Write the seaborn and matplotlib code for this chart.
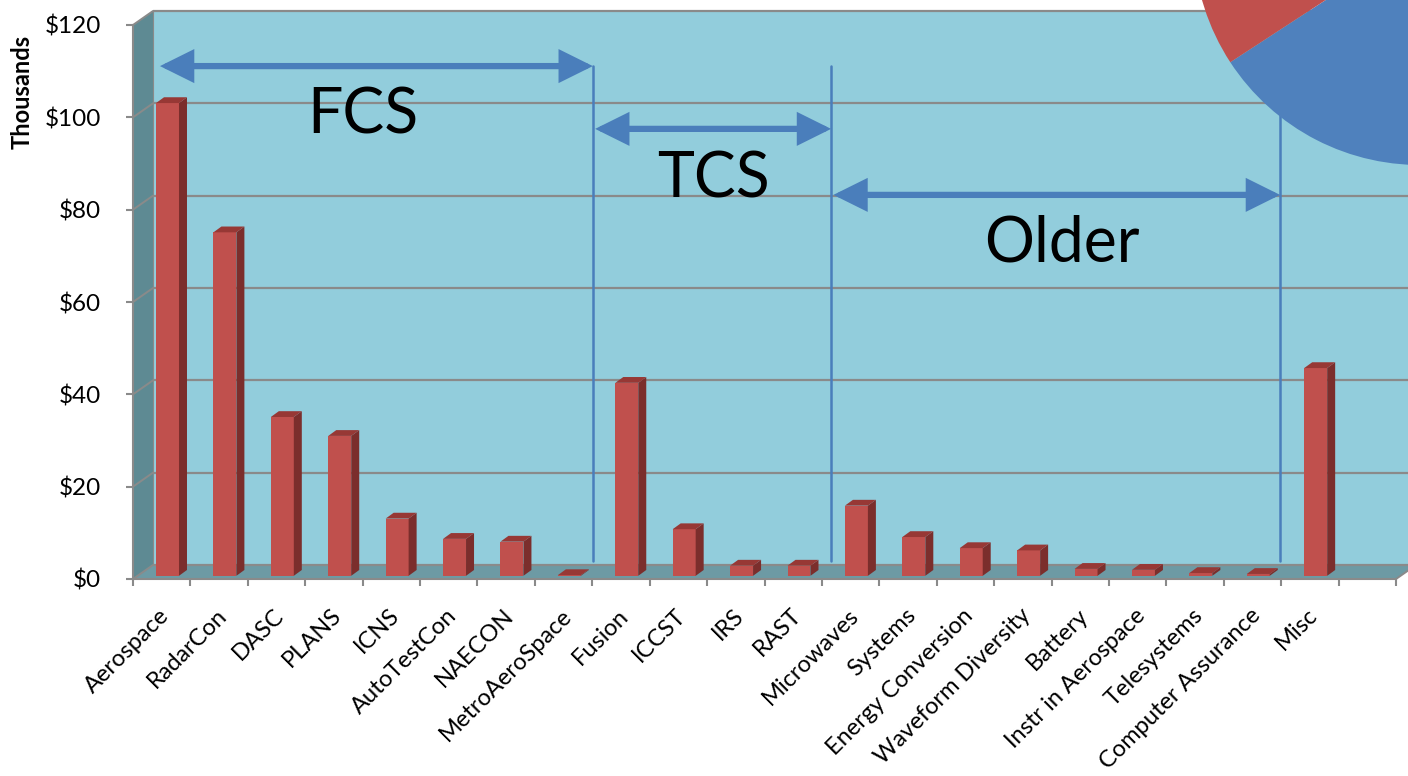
import numpy as np
import pandas as pd
import matplotlib
matplotlib.use("Agg")
import matplotlib.pyplot as plt
import seaborn as sns
from matplotlib.patches import Polygon, FancyArrowPatch
from matplotlib.transforms import ScaledTranslation

# ---------------- data ----------------
categories = ["Aerospace", "RadarCon", "DASC", "PLANS", "ICNS", "AutoTestCon",
              "NAECON", "MetroAeroSpace", "Fusion", "ICCST", "IRS", "RAST",
              "Microwaves", "Systems", "Energy Conversion", "Waveform Diversity",
              "Battery", "Instr in Aerospace", "Telesystems",
              "Computer Assurance", "Misc"]
amounts = [102.4, 74.4, 34.4, 30.3, 12.4, 8.0, 7.4, 0.15, 41.8, 10.1, 2.2, 2.2,
           15.2, 8.4, 6.0, 5.5, 1.5, 1.3, 0.6, 0.4, 45.0]
y_ticks = [0, 20, 40, 60, 80, 100, 120]
y_tick_labels = ["\\$0", "\\$20", "\\$40", "\\$60", "\\$80", "\\$100", "\\$120"]
y_label = "Thousands"
group_names = ["FCS", "TCS", "Older"]
group_spans = [(-0.03, 7.51), (7.55, 11.66), (11.70, 19.48)]
group_arrow_y = [111.1, 97.5, 83.2]
group_text_x = [3.51, 9.61, 15.68]
group_text_y = [96.6, 82.7, 68.8]
divider_x = [7.51, 11.66, 19.48]
pie_values = [65.8, 34.2]

# ---------------- style ----------------
sns.set_theme(style="white")
plt.rcParams["font.family"] = ["Lato", "DejaVu Sans"]

WALL = "#92CDDC"
SIDE = "#5E8A93"
FLOOR = "#6D9AA4"
GRID = "#8A8A8A"
RED = "#C0504D"
RED_SIDE = "#7B2E2C"
RED_TOP = "#973835"
BLUE = "#4A7EBB"
PIE_BLUE = "#4F81BD"

W, H, DPI = 1408, 776, 100
fig = plt.figure(figsize=(W / DPI, H / DPI), dpi=DPI, facecolor="white")
ax = fig.add_axes([133 / W, (H - 579) / H, 1263 / W, 554 / H])
ax.set_facecolor("none")

n = len(categories)
x0, x1 = -0.5, n + 0.5        # one empty slot after the last category
ymax = 120
px_x = (x1 - x0) / 1263.0
px_y = ymax / 554.0
Dx, Dy = 20 * px_x, 14 * px_y  # wall depth vector

# ---------------- bars (seaborn) ----------------
df = pd.DataFrame({"conference": categories, "amount": amounts})
sns.barplot(data=df, x="conference", y="amount", color=RED, saturation=1,
            width=0.4, ax=ax, zorder=2, linewidth=0)
bars = list(ax.patches)

# ---------------- walls / floor ----------------
back = Polygon([(x0 + Dx, Dy), (x1 + Dx, Dy), (x1 + Dx, ymax + Dy), (x0 + Dx, ymax + Dy)],
               closed=True, facecolor=WALL, edgecolor="none", zorder=0.2, clip_on=False)
side = Polygon([(x0, 0), (x0 + Dx, Dy), (x0 + Dx, ymax + Dy), (x0, ymax)],
               closed=True, facecolor=SIDE, edgecolor="none", zorder=0.3, clip_on=False)
floor = Polygon([(x0, 0), (x1, 0), (x1 + Dx, Dy), (x0 + Dx, Dy)],
                closed=True, facecolor=FLOOR, edgecolor="none", zorder=0.3, clip_on=False)
for p in (back, side, floor):
    ax.add_patch(p)

for v in y_ticks:
    ax.plot([x0 + Dx, x1 + Dx], [v + Dy, v + Dy], color=GRID, lw=1.6,
            zorder=0.4, clip_on=False, solid_capstyle="butt")
    ax.plot([x0, x0 + Dx], [v, v + Dy], color=GRID, lw=1.4, zorder=0.4, clip_on=False)
ax.plot([x0 + Dx, x0 + Dx], [Dy, ymax + Dy], color=GRID, lw=0.8, zorder=0.4, clip_on=False)
ax.plot([x1, x1 + Dx], [0, Dy], color=GRID, lw=1.4, zorder=0.4, clip_on=False)

# 3D faces of the bars
fx = 5.8 * px_x      # front face x offset
fy = 3.2 * px_y      # front face lift
ddx, ddy = 8 * px_x, 5.8 * px_y   # bar depth
for bar in bars:
    bx = bar.get_x() + fx
    bw = bar.get_width()
    bh = bar.get_height()
    bar.set_x(bx)
    bar.set_y(fy)
    by = fy
    ax.add_patch(Polygon([(bx + bw, by), (bx + bw + ddx, by + ddy),
                          (bx + bw + ddx, by + bh + ddy), (bx + bw, by + bh)],
                         closed=True, facecolor=RED_SIDE, edgecolor="none", zorder=2))
    ax.add_patch(Polygon([(bx, by + bh), (bx + bw, by + bh),
                          (bx + bw + ddx, by + bh + ddy), (bx + ddx, by + bh + ddy)],
                         closed=True, facecolor=RED_TOP, edgecolor="none", zorder=2))

# ---------------- axes ----------------
ax.set_xlim(x0, x1)
ax.set_ylim(0, ymax)
for s in ("top", "right"):
    ax.spines[s].set_visible(False)
for s in ("left", "bottom"):
    ax.spines[s].set_color(GRID)
    ax.spines[s].set_linewidth(1.5)
    ax.spines[s].set_zorder(3)

ax.set_yticks(y_ticks, labels=y_tick_labels)
ax.tick_params(axis="y", which="major", direction="out", length=5, width=1.5,
               color=GRID, pad=18, labelsize=17.5, labelcolor="black", left=True)
ax.set_xticks(range(n), labels=categories)
ax.set_xticks(np.arange(-0.5, n + 1, 1.0), minor=True)
ax.tick_params(axis="x", which="major", length=0, pad=18.5, labelsize=17, labelcolor="black")
ax.tick_params(axis="x", which="minor", direction="out", length=5, width=1.5,
               color=GRID, bottom=True)
offset = ScaledTranslation(-3 / DPI, 0, fig.dpi_scale_trans)
for lab in ax.get_xticklabels():
    lab.set_rotation(45)
    lab.set_ha("right")
    lab.set_va("top")
    lab.set_rotation_mode("anchor")
    lab.set_transform(lab.get_transform() + offset)

ax.set_xlabel("")
ax.set_ylabel(y_label, fontsize=17, fontweight="bold", color="black")
ax.yaxis.set_label_coords((34 - 133) / 1263, (579 - 92) / 554)
ax.grid(False)

# ---------------- annotations ----------------
for xv in divider_x:
    ax.plot([xv, xv], [4.0, group_arrow_y[0]], color=BLUE, lw=1.8, zorder=4, clip_on=False)

for name, (a, b), ya, tx, ty in zip(group_names, group_spans, group_arrow_y,
                                    group_text_x, group_text_y):
    arr = FancyArrowPatch((a, ya), (b, ya),
                          arrowstyle="<|-|>,head_length=1.45,head_width=0.72",
                          mutation_scale=12, lw=4.5, color=BLUE, shrinkA=0, shrinkB=0,
                          joinstyle="miter", zorder=5, clip_on=False)
    ax.add_patch(arr)
    ax.text(tx, ty, name, fontsize=45, ha="center", va="baseline", color="black", zorder=6)

# ---------------- pie (partially visible) ----------------
r = 226.5
cx, cy = 1420, 837.5
pax = fig.add_axes([(cx - r) / W, (cy - r) / H, 2 * r / W, 2 * r / H])
pax.pie(pie_values, colors=[PIE_BLUE, RED], startangle=90, counterclock=False,
        radius=1, wedgeprops=dict(linewidth=0))
pax.set_xlim(-1, 1)
pax.set_ylim(-1, 1)
pax.set_axis_off()

fig.savefig("out.png", dpi=DPI, facecolor="white")
